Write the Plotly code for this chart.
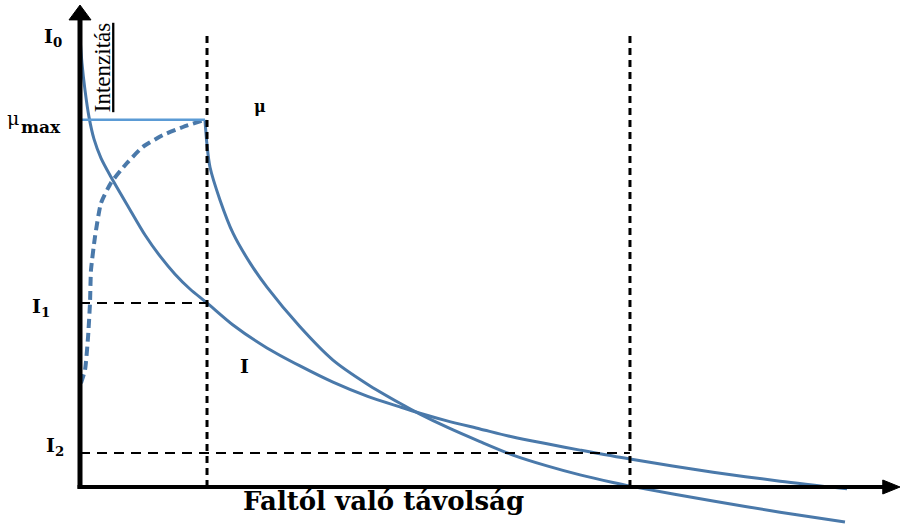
import plotly.graph_objects as go

# ---- data (distance units along x, intensity units along y) ----
I0 = 100.0
I1 = 40.9
I2 = 7.56
mu_max = 81.6
x1 = 1.549
x2 = 6.707

I_x = [0.0, 0.024, 0.061, 0.110, 0.171, 0.256, 0.378, 0.585, 0.793, 0.976, 1.159, 1.341,
       1.549, 1.866, 2.280, 2.683, 3.085, 3.500, 3.902, 4.146, 4.476, 4.878, 5.280,
       5.695, 6.098, 6.707, 7.720, 8.537, 9.354]
I_y = [100.0, 94.2, 88.2, 82.2, 77.3, 73.1, 68.9, 62.4, 56.0, 51.3, 47.3, 44.0,
       40.9, 36.0, 30.9, 26.9, 23.3, 20.2, 17.8, 16.4, 14.7, 12.9, 11.1,
       9.6, 8.2, 6.2, 3.3, 1.3, -0.4]

mu_rise_x = [0.012, 0.061, 0.098, 0.122, 0.134, 0.183, 0.256, 0.378, 0.573, 0.768, 1.012, 1.256, 1.524]
mu_rise_y = [23.1, 26.0, 33.3, 40.9, 48.2, 55.6, 63.1, 67.6, 72.0, 75.6, 78.2, 80.0, 81.6]

mu_flat_x = [0.024, 1.524]
mu_flat_y = [mu_max, mu_max]

mu_dec_x = [1.524, 1.549, 1.585, 1.707, 1.866, 2.073, 2.280, 2.683, 3.085, 3.500, 3.902, 4.146,
            4.476, 4.878, 5.280, 5.695, 6.098, 6.500, 6.707, 7.720, 8.537, 9.329]
mu_dec_y = [81.6, 76.0, 71.1, 63.8, 56.4, 49.8, 44.4, 35.6, 28.2, 22.9, 18.6, 16.2,
            13.3, 10.1, 7.1, 4.7, 2.7, 1.0, 0.2, -3.1, -5.6, -7.8]

# view window
x_range = [-0.9756, 10.0]
y_range = [-8.222, 108.222]

BLUE = "#4a79aa"
LIGHT = "#5b9bd5"
WIDE = "DejaVu Serif"
NARROW = "Liberation Serif"

fig = go.Figure()
fig.add_trace(go.Scatter(x=I_x, y=I_y, mode="lines",
                         line=dict(color=BLUE, width=3, shape="spline", smoothing=0.8)))
fig.add_trace(go.Scatter(x=mu_dec_x, y=mu_dec_y, mode="lines",
                         line=dict(color=BLUE, width=3, shape="spline", smoothing=0.8)))
fig.add_trace(go.Scatter(x=mu_rise_x, y=mu_rise_y, mode="lines",
                         line=dict(color=BLUE, width=4, dash="9px,5px", shape="spline", smoothing=0.5)))
fig.add_trace(go.Scatter(x=mu_flat_x, y=mu_flat_y, mode="lines",
                         line=dict(color=LIGHT, width=2.5)))

shapes = []
# dashed guides
for xv in (x1, x2):
    shapes.append(dict(type="line", x0=xv, x1=xv, y0=0, y1=100.9,
                       line=dict(color="black", width=3, dash="7px,5px")))
shapes.append(dict(type="line", x0=0, x1=x1, y0=I1, y1=I1,
                   line=dict(color="black", width=2, dash="10px,7px")))
shapes.append(dict(type="line", x0=0, x1=x2, y0=I2, y1=I2,
                   line=dict(color="black", width=2, dash="10px,7px")))
# axes with arrowheads
shapes.append(dict(type="line", x0=0, x1=0, y0=-0.4, y1=104.0,
                   line=dict(color="black", width=5)))
shapes.append(dict(type="path", path="M -0.134 103.8 L 0 107.1 L 0.134 103.8 Z",
                   fillcolor="black", line=dict(color="black", width=1)))
shapes.append(dict(type="line", x0=-0.03, x1=9.82, y0=0, y1=0,
                   line=dict(color="black", width=4)))
shapes.append(dict(type="path", path="M 9.79 1.556 L 10.0 0 L 9.79 -1.556 Z",
                   fillcolor="black", line=dict(color="black", width=1)))

ann = []
def label(text, x, y, size, family=WIDE, xanchor="center", yanchor="middle", angle=0):
    ann.append(dict(text=text, x=x, y=y, xref="x", yref="y", showarrow=False,
                    xanchor=xanchor, yanchor=yanchor, textangle=angle,
                    font=dict(family=family, size=size, color="black")))

label("<b>I<sub>0</sub></b>", -0.19, 100.0, 19, xanchor="right")
label("μ", -0.82, 82.0, 19, xanchor="center")
label("<b>max</b>", -0.75, 80.0, 17, xanchor="left")
label("<b>I<sub>1</sub></b>", -0.34, 39.8, 19, xanchor="right")
label("<b>I<sub>2</sub></b>", -0.17, 8.9, 19, xanchor="right")
label("<b>μ</b>", 2.19, 84.6, 16)
label("<b>I</b>", 2.01, 27.0, 19)
label("<u>Intenzitás</u>", 0.27, 93.1, 23, family=NARROW, angle=-90)
label("<b>Faltól való távolság</b>", 3.70, -3.2, 26)

fig.update_layout(
    width=900, height=524, autosize=False,
    margin=dict(l=0, r=0, t=0, b=0),
    paper_bgcolor="white", plot_bgcolor="white",
    showlegend=False,
    xaxis=dict(range=x_range, visible=False, fixedrange=True),
    yaxis=dict(range=y_range, visible=False, fixedrange=True),
    shapes=shapes, annotations=ann,
)
fig.write_html("out.html")
